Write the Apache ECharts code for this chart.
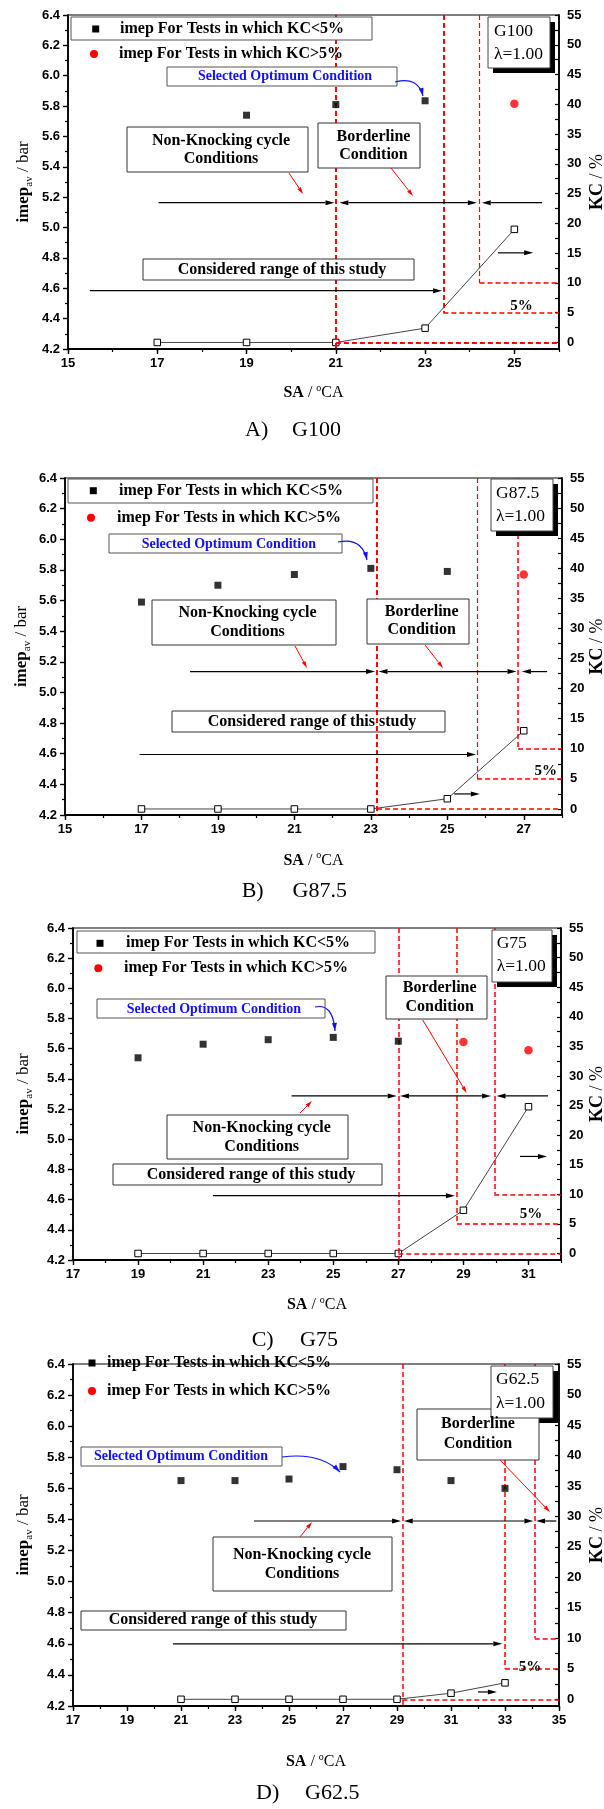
<!DOCTYPE html>
<html><head><meta charset="utf-8">
<script src="https://cdn.jsdelivr.net/npm/echarts@6.0.0/dist/echarts.min.js"></script>
<style>html,body{margin:0;padding:0;background:#fff;}#chart{width:604px;height:1809px;}</style>
</head><body><div id="chart"></div>
<script>
// ---------------- DATA ----------------
const saA = [17, 19, 21, 23, 25];
const imepLowA = [null, 5.74, 5.81, 5.835, null];
const imepHighA = [null, null, null, null, 5.815];
const kcA = [0, 0, 0, 2.4, 19.0];

const saB = [17, 19, 21, 23, 25, 27];
const imepLowB = [5.59, 5.70, 5.77, 5.81, 5.79, null];
const imepHighB = [null, null, null, null, null, 5.77];
const kcB = [0, 0, 0, 0, 1.7, 13.0];

const saC = [19, 21, 23, 25, 27, 29, 31];
const imepLowC = [5.54, 5.63, 5.66, 5.675, 5.65, null, null];
const imepHighC = [null, null, null, null, null, 5.645, 5.59];
const kcC = [0, 0, 0, 0, 0, 7.3, 24.8];

const saD = [21, 23, 25, 27, 29, 31, 33];
const imepLowD = [5.65, 5.65, 5.66, 5.74, 5.72, 5.65, 5.60];
const imepHighD = [null, null, null, null, null, null, null];
const kcD = [0, 0, 0, 0, 0, 1.0, 2.7];

const xTicksA = [15, 17, 19, 21, 23, 25];
const xTicksB = [15, 17, 19, 21, 23, 25, 27];
const xTicksC = [17, 19, 21, 23, 25, 27, 29, 31];
const xTicksD = [17, 19, 21, 23, 25, 27, 29, 31, 33, 35];
const kcTicks = [0, 5, 10, 15, 20, 25, 30, 35, 40, 45, 50, 55];
const kcMinorTicks = [0, 2.5, 5, 7.5, 10, 12.5, 15, 17.5, 20, 22.5, 25, 27.5, 30, 32.5, 35, 37.5, 40, 42.5, 45, 47.5, 50, 52.5, 55];

const fuelNames = ['G100', 'G87.5', 'G75', 'G62.5'];
const captionLetters = ['A)', 'B)', 'C)', 'D)'];
const lambdaText = 'λ=1.00';
const legendLowText = 'imep For Tests in which KC<5%';
const legendHighText = 'imep For Tests in which KC>5%';
const selText = 'Selected Optimum Condition';
const nkLines = ['Non-Knocking cycle', 'Conditions'];
const blLines = ['Borderline', 'Condition'];
const crText = 'Considered range of this study';
const pctText = '5%';

// ---------------- LAYOUT ----------------
const layouts = [
 { grid:{left:68,top:15,width:491,height:334}, xMin:15, xMax:26, kcMin:-1.1,
   redV:[[21,-1.1,2],[23.41,5,2],[24.22,10,1.2]], redH:[[21,0,2],[23.41,5,1.5],[24.22,10,1.5]],
   rangeArrows:[[17.03,20.97,5.164,1],[21.08,24.16,5.164,2],[25.62,24.27,5.164,1],[15.49,23.38,4.584,1]],
   kcArrow:[24.63,25.42,15.05],
   redPointers:[[289,173,303,194],[391,168,413,196]],
   bluePointer:[395,82,418,76,423,96],
   legendBox:[71,17,372,40], legend1:[95.7,120,29], legend2:[94,119,54],
   selBox:[167,67,397,86], selPos:[285,76.5],
   nkBox:[127,127,308,172], nkPos:[221,140.5,158.5],
   blBox:[318,123,420,168], blPos:[373.5,137,155],
   crBox:[143,259,414,280], crPos:[282,270], crClear:false,
   pct:[521.5,306],
   gBox:[488,17,550,68], gPos:[494,31,54],
   yTitle:[24,182], rTitle:[597,182], xTitle:[313.5,393],
   caption:[245,292,430] },
 { grid:{left:65,top:478,width:497,height:337}, xMin:15, xMax:28, kcMin:-1.0,
   redV:[[23.16,-1.0,2],[25.78,5,1.2],[26.85,10,1.5]], redH:[[23.16,0,1.5],[25.78,5,1.5],[26.85,10,1.5]],
   rangeArrows:[[18.27,23.11,5.136,1],[23.2,26.81,5.136,2],[27.61,26.95,5.136,1],[16.95,25.75,4.595,1]],
   kcArrow:[25.18,25.85,2.5],
   redPointers:[[295,646,307,668],[425,645,443,668]],
   bluePointer:[338,542,362,537,367,560],
   legendBox:[68,479,373,503], legend1:[93.3,119,490.7], legend2:[91,117,517.7],
   selBox:[109,534,342,553], selPos:[228.8,544],
   nkBox:[152,600,336,645], nkPos:[247.5,613.3,632.3],
   blBox:[367,599,469,644], blPos:[421.7,611.7,630],
   crBox:[172,711,445,732], crPos:[312,721.7], crClear:true,
   pct:[545.8,770.7],
   gBox:[491,479,553,531], gPos:[496,493,516.7],
   yTitle:[22,646.5], rTitle:[597,646.5], xTitle:[313.5,860.7],
   caption:[241.7,292.5,891.7] },
 { grid:{left:73,top:928,width:488,height:332}, xMin:17, xMax:32, kcMin:-1.1,
   redV:[[27,-1.1,1.5],[28.8,5,1.5],[29.95,10,1.5]], redH:[[27,0,1.5],[28.8,5,1.5],[29.95,10,1.5]],
   rangeArrows:[[23.72,26.95,5.287,1],[27.05,29.85,5.287,2],[31.6,30.02,5.287,1],[21.3,28.74,4.626,1]],
   kcArrow:[30.74,31.57,16.4],
   redPointers:[[300,1113,312,1101],[422.7,1020,466.7,1093]],
   bluePointer:[315,1007,333,1003,335,1031],
   legendBox:[77,931,375,953], legend1:[100,126,943.3], legend2:[98.3,124,968.3],
   selBox:[97,999,325,1018], selPos:[213.8,1009.3],
   nkBox:[167,1115,348,1159], nkPos:[261.7,1128.3,1147.3],
   blBox:[386,976,487,1019], blPos:[439.7,988.3,1007.3],
   crBox:[113,1164,382,1185], crPos:[251,1175], crClear:false,
   pct:[531,1214],
   gBox:[492,930,552,982], gPos:[496.7,943.3,966.7],
   yTitle:[24,1094], rTitle:[597,1094], xTitle:[317,1305],
   caption:[251.7,300,1340] },
 { grid:{left:73,top:1364,width:486,height:342}, xMin:17, xMax:35, kcMin:-1.1,
   redV:[[29.2,-1.1,1.5],[33.0,5,1.5],[34.1,10,1.5]], redH:[[29.2,0,1.5],[33.0,5,1.5],[34.1,10,1.5]],
   rangeArrows:[[23.7,29.15,5.39,1],[29.25,34.05,5.39,2],[34.9,34.15,5.39,1],[20.7,32.9,4.6,1]],
   kcArrow:[32.0,32.7,1.2],
   redPointers:[[300,1537,312,1522],[500,1460,550,1512]],
   bluePointer:[282,1457,320,1452,340,1472],
   legendBox:null, legend1:[92,107,1363], legend2:[92,107,1391],
   selBox:[81,1447,282,1466], selPos:[181,1456.5],
   nkBox:[213,1537,392,1591], nkPos:[302,1555,1574],
   blBox:[417,1409,539,1460], blPos:[478,1424,1444],
   crBox:[81,1611,346,1630], crPos:[213,1620], crClear:false,
   pct:[530,1667],
   gBox:[491,1366,553,1418], gPos:[496,1379,1403],
   yTitle:[24,1535], rTitle:[597,1535], xTitle:[316,1762],
   caption:[256,305,1793] }
];

const panels = [
 {sa:saA, low:imepLowA, high:imepHighA, kc:kcA, xTicks:xTicksA, L:layouts[0]},
 {sa:saB, low:imepLowB, high:imepHighB, kc:kcB, xTicks:xTicksB, L:layouts[1]},
 {sa:saC, low:imepLowC, high:imepHighC, kc:kcC, xTicks:xTicksC, L:layouts[2]},
 {sa:saD, low:imepLowD, high:imepHighD, kc:kcD, xTicks:xTicksD, L:layouts[3]}
];

const SERIF = '"Liberation Serif","Times New Roman",serif';
const SANS = '"Liberation Sans",Arial,sans-serif';
const toPts = (xs, ys) => xs.map((x, k) => ys[k] == null ? null : [x, ys[k]]).filter(Boolean);

const option = {animation:false, backgroundColor:'#fff', grid:[], xAxis:[], yAxis:[], series:[]};
const tickLabel = {fontFamily:SANS, fontWeight:'bold', fontSize:13, color:'#000'};

panels.forEach((P, i) => {
  const L = P.L;
  option.grid.push(Object.assign({show:true, borderColor:'#000', borderWidth:1, backgroundColor:'transparent'}, L.grid));
  option.xAxis.push({type:'value', gridIndex:i, min:L.xMin, max:L.xMax, interval:1, position:'bottom',
    axisLine:{show:true, onZero:false, lineStyle:{color:'#000', width:1.8}},
    axisTick:{show:true, customValues:P.xTicks, length:5, lineStyle:{color:'#000', width:1.4}},
    axisLabel:Object.assign({show:true, customValues:P.xTicks, margin:8}, tickLabel),
    splitLine:{show:false}});
  option.xAxis.push({type:'value', gridIndex:i, min:L.xMin, max:L.xMax, interval:1, position:'bottom',
    axisLine:{show:false, onZero:false}, axisTick:{show:true, length:3, lineStyle:{color:'#000', width:1.2}},
    axisLabel:{show:false}, splitLine:{show:false}});
  option.yAxis.push({type:'value', gridIndex:i, min:4.2, max:6.4, interval:0.2, position:'left',
    axisLine:{show:true, onZero:false, lineStyle:{color:'#000', width:1.8}},
    axisTick:{show:true, length:5, lineStyle:{color:'#000', width:1.4}},
    minorTick:{show:true, splitNumber:2, length:3, lineStyle:{color:'#000', width:1.2}},
    axisLabel:Object.assign({formatter:v => v.toFixed(1), margin:8}, tickLabel),
    splitLine:{show:false}, minorSplitLine:{show:false}});
  option.yAxis.push({type:'value', gridIndex:i, min:L.kcMin, max:55, position:'right',
    axisLine:{show:true, onZero:false, lineStyle:{color:'#000', width:1.8}},
    axisTick:{show:true, inside:true, customValues:kcMinorTicks, length:4, lineStyle:{color:'#000', width:1.2}},
    axisLabel:Object.assign({customValues:kcTicks, margin:8}, tickLabel),
    splitLine:{show:false}});

  const red = [];
  L.redV.forEach(v => red.push([{coord:[v[0], 55], lineStyle:{width:v[2]}}, {coord:[v[0], v[1]]}]));
  L.redH.forEach(h => red.push([{coord:[h[0], h[1]], lineStyle:{width:h[2]}}, {coord:[L.xMax, h[1]]}]));

  option.series.push({type:'scatter', xAxisIndex:2*i, yAxisIndex:2*i, data:toPts(P.sa, P.low),
    symbol:'rect', symbolSize:7, itemStyle:{color:'#000'}, z:5, silent:true});
  option.series.push({type:'scatter', xAxisIndex:2*i, yAxisIndex:2*i, data:toPts(P.sa, P.high),
    symbol:'circle', symbolSize:8.5, itemStyle:{color:'#ff0000'}, z:5, silent:true});
  option.series.push({type:'line', xAxisIndex:2*i, yAxisIndex:2*i+1, data:toPts(P.sa, P.kc),
    symbol:'rect', symbolSize:6.5, showSymbol:true, silent:true, z:4,
    itemStyle:{color:'#fff', borderColor:'#000', borderWidth:1},
    lineStyle:{color:'#444', width:1},
    markLine:{silent:true, symbol:['none','none'], label:{show:false}, animation:false,
      lineStyle:{color:'#ff0000', type:[5,3], width:1.5}, emphasis:{disabled:true}, data:red}});
});

const chart = echarts.init(document.getElementById('chart'), null, {renderer:'canvas', width:604, height:1809});
chart.setOption(option);

// ---------------- ANNOTATIONS ----------------
function txt(x, y, s, size, o) {
  o = o || {};
  return {type:'text', z:30, x:x, y:y, silent:true, style:{text:s, fontFamily:o.family || SERIF, fontSize:size,
    fontWeight:o.bold ? 'bold' : 'normal', fill:o.color || '#000', align:o.align || 'center', verticalAlign:'middle'}};
}
function box(b, fill, stroke) {
  return {type:'rect', z:20, silent:true, shape:{x:b[0], y:b[1], width:b[2]-b[0], height:b[3]-b[1]},
    style:{fill:fill, stroke:stroke || '#333', lineWidth:1}};
}
function arrow(x1, y1, x2, y2, color, lw, hl, hw, both) {
  const a = Math.atan2(y2-y1, x2-x1), c = Math.cos(a), s = Math.sin(a);
  const out = [];
  const sx = both ? x1 + hl*c : x1, sy = both ? y1 + hl*s : y1;
  out.push({type:'line', z:25, silent:true, shape:{x1:sx, y1:sy, x2:x2-hl*c, y2:y2-hl*s}, style:{stroke:color, lineWidth:lw}});
  const head = (tx, ty, dx, dy) => ({type:'polygon', z:25, silent:true, shape:{points:[[tx,ty],
    [tx-hl*dx+hw/2*dy, ty-hl*dy-hw/2*dx], [tx-hl*dx-hw/2*dy, ty-hl*dy+hw/2*dx]]}, style:{fill:color}});
  out.push(head(x2, y2, c, s));
  if (both) out.push(head(x1, y1, -c, -s));
  return out;
}

const G = [];
panels.forEach((P, i) => {
  const L = P.L;
  L.rangeArrows.forEach(a => {
    const p1 = chart.convertToPixel({xAxisIndex:2*i, yAxisIndex:2*i}, [a[0], a[2]]);
    const p2 = chart.convertToPixel({xAxisIndex:2*i, yAxisIndex:2*i}, [a[1], a[2]]);
    G.push(...arrow(p1[0], p1[1], p2[0], p2[1], '#000', 1.2, 9, 5, a[3] === 2));
  });
  {
    const a = L.kcArrow;
    const p1 = chart.convertToPixel({xAxisIndex:2*i, yAxisIndex:2*i+1}, [a[0], a[2]]);
    const p2 = chart.convertToPixel({xAxisIndex:2*i, yAxisIndex:2*i+1}, [a[1], a[2]]);
    G.push(...arrow(p1[0], p1[1], p2[0], p2[1], '#000', 1.2, 9, 5, false));
  }
  L.redPointers.forEach(r => G.push(...arrow(r[0], r[1], r[2], r[3], '#ff0000', 1, 7, 4, false)));
  const bp = L.bluePointer;
  G.push({type:'bezierCurve', z:25, silent:true, shape:{x1:bp[0], y1:bp[1], cpx1:bp[2], cpy1:bp[3], x2:bp[4], y2:bp[5]},
    style:{stroke:'#1010ff', lineWidth:1.2, fill:null}});
  {
    const a = Math.atan2(bp[5]-bp[3], bp[4]-bp[2]), c = Math.cos(a), s = Math.sin(a), hl = 8, hw = 5;
    G.push({type:'polygon', z:26, silent:true, shape:{points:[[bp[4], bp[5]],
      [bp[4]-hl*c+hw/2*s, bp[5]-hl*s-hw/2*c], [bp[4]-hl*c-hw/2*s, bp[5]-hl*s+hw/2*c]]}, style:{fill:'#1010ff'}});
  }
  if (L.legendBox) G.push(box(L.legendBox, '#fff', '#555'));
  G.push({type:'rect', z:31, silent:true, shape:{x:L.legend1[0]-3.5, y:L.legend1[2]-3.5, width:7, height:7}, style:{fill:'#000'}});
  G.push(txt(L.legend1[1], L.legend1[2], legendLowText, 16, {bold:true, align:'left'}));
  G.push({type:'circle', z:31, silent:true, shape:{cx:L.legend2[0], cy:L.legend2[2], r:4}, style:{fill:'#ff0000'}});
  G.push(txt(L.legend2[1], L.legend2[2], legendHighText, 16, {bold:true, align:'left'}));
  G.push(box(L.selBox, '#fff', '#555'));
  G.push(txt(L.selPos[0], L.selPos[1], selText, 14, {bold:true, color:'#1010ff'}));
  G.push(box(L.nkBox, '#fff', '#333'));
  G.push(txt(L.nkPos[0], L.nkPos[1], nkLines[0], 16, {bold:true}));
  G.push(txt(L.nkPos[0], L.nkPos[2], nkLines[1], 16, {bold:true}));
  G.push(box(L.blBox, '#fff', '#333'));
  G.push(txt(L.blPos[0], L.blPos[1], blLines[0], 16, {bold:true}));
  G.push(txt(L.blPos[0], L.blPos[2], blLines[1], 16, {bold:true}));
  G.push(box(L.crBox, L.crClear ? 'rgba(255,255,255,0)' : '#fff', '#333'));
  G.push(txt(L.crPos[0], L.crPos[1], crText, 16, {bold:true}));
  G.push(txt(L.pct[0], L.pct[1], pctText, 15, {bold:true}));
  const gb = L.gBox;
  G.push({type:'rect', z:19, silent:true, shape:{x:gb[0]+5, y:gb[1]+5, width:gb[2]-gb[0], height:gb[3]-gb[1]}, style:{fill:'#000'}});
  G.push(box(gb, '#fff', '#444'));
  G.push(txt(L.gPos[0], L.gPos[1], fuelNames[i], 17.5, {align:'left'}));
  G.push(txt(L.gPos[0], L.gPos[2], lambdaText, 17.5, {align:'left'}));
  G.push({type:'text', z:30, silent:true, x:L.yTitle[0], y:L.yTitle[1], rotation:Math.PI/2,
    style:{text:'{b|imep}{s|av}{n| / bar}', align:'center', verticalAlign:'middle', rich:{
      b:{fontFamily:SERIF, fontSize:17, fontWeight:'bold', lineHeight:22, fill:'#000'},
      s:{fontFamily:SERIF, fontSize:11, lineHeight:12, verticalAlign:'bottom', fill:'#000'},
      n:{fontFamily:SERIF, fontSize:17, lineHeight:22, fill:'#000'}}}});
  G.push({type:'text', z:30, silent:true, x:L.rTitle[0], y:L.rTitle[1], rotation:Math.PI/2,
    style:{text:'{b|KC}{n| / %}', align:'center', verticalAlign:'middle', rich:{
      b:{fontFamily:SERIF, fontSize:18, fontWeight:'bold', lineHeight:22, fill:'#000'},
      n:{fontFamily:SERIF, fontSize:18, lineHeight:22, fill:'#000'}}}});
  G.push({type:'text', z:30, silent:true, x:L.xTitle[0], y:L.xTitle[1],
    style:{text:'{b|SA}{n| / }{p|o}{n|CA}', align:'center', verticalAlign:'middle', rich:{
      b:{fontFamily:SERIF, fontSize:16, fontWeight:'bold', lineHeight:20, fill:'#000'},
      n:{fontFamily:SERIF, fontSize:16, lineHeight:20, fill:'#000'},
      p:{fontFamily:SERIF, fontSize:10, lineHeight:11, verticalAlign:'top', fill:'#000'}}}});
  G.push(txt(L.caption[0], L.caption[2], captionLetters[i], 22, {align:'left'}));
  G.push(txt(L.caption[1], L.caption[2], fuelNames[i], 22, {align:'left'}));
});
chart.setOption({graphic:{elements:G}});
</script></body></html>
